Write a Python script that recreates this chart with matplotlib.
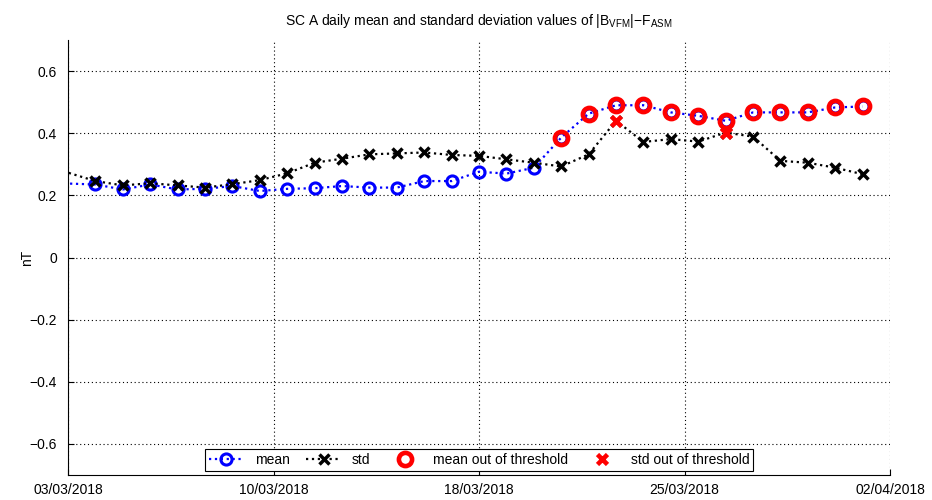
from datetime import datetime, timedelta
import matplotlib
matplotlib.use("Agg")
import matplotlib.pyplot as plt
import matplotlib.dates as mdates

plt.rcParams['font.family'] = ['Liberation Sans', 'DejaVu Sans']
plt.rcParams['mathtext.default'] = 'regular'

# daily dates (the 02/03 value sits just left of the visible range)
dates = [datetime(2018, 3, 2)] + [datetime(2018, 3, 4) + timedelta(days=i) for i in range(29)]

mean_vals = [0.241, 0.235, 0.219, 0.235, 0.219, 0.221, 0.230, 0.214, 0.221, 0.223, 0.230,
             0.225, 0.225, 0.246, 0.246, 0.276, 0.270, 0.289, 0.386, 0.463, 0.490,
             0.490, 0.467, 0.456, 0.440, 0.467, 0.467, 0.467, 0.483, 0.486]
std_vals = [0.300, 0.246, 0.232, 0.239, 0.232, 0.225, 0.236, 0.249, 0.271, 0.305, 0.318,
            0.332, 0.335, 0.338, 0.330, 0.327, 0.316, 0.305, 0.293, 0.332, 0.440,
            0.372, 0.381, 0.373, 0.402, 0.389, 0.311, 0.305, 0.289, 0.268]

# indices of values flagged out of threshold
mean_out_idx = [18, 19, 20, 21, 22, 23, 24, 25, 26, 27, 28, 29]
std_out_idx = [20, 24]

tick_dates = [datetime(2018, 3, 3), datetime(2018, 3, 10, 12), datetime(2018, 3, 18),
              datetime(2018, 3, 25, 12), datetime(2018, 4, 2)]

fig = plt.figure(figsize=(9.32, 5.0), dpi=100)
ax = fig.add_axes([0.073, 0.05, 0.882, 0.87])

ax.plot(dates, mean_vals, linestyle=':', color='blue', linewidth=1.6,
        marker='o', markersize=8, markerfacecolor='none', markeredgewidth=2.2,
        markeredgecolor='blue', label='mean', zorder=3)
ax.plot(dates, std_vals, linestyle=':', color='black', linewidth=1.6,
        marker='x', markersize=7, markeredgewidth=2.5, label='std', zorder=4)
ax.plot([dates[i] for i in mean_out_idx], [mean_vals[i] for i in mean_out_idx],
        linestyle='none', marker='o', markersize=9.5, markerfacecolor='none',
        markeredgecolor='red', markeredgewidth=3.3, label='mean out of threshold', zorder=5)
ax.plot([dates[i] for i in std_out_idx], [std_vals[i] for i in std_out_idx],
        linestyle='none', marker='x', markersize=7, markeredgecolor='red',
        markeredgewidth=3.3, label='std out of threshold', zorder=6)

ax.set_xlim(datetime(2018, 3, 3), datetime(2018, 4, 2))
ax.set_ylim(-0.7, 0.7)
ax.set_xticks(tick_dates)
ax.xaxis.set_major_formatter(mdates.DateFormatter('%d/%m/%Y'))
ax.set_yticks([-0.6, -0.4, -0.2, 0, 0.2, 0.4, 0.6])
ax.set_yticklabels(['\u22120.6', '\u22120.4', '\u22120.2', '0', '0.2', '0.4', '0.6'])
ax.tick_params(direction='in', labelsize=10, length=4)
ax.tick_params(axis='x', pad=6)
ax.tick_params(axis='y', pad=8)
ax.grid(True, linestyle=(0, (1, 2.5)), color='black', linewidth=0.8)
ax.spines['top'].set_visible(False)
ax.spines['right'].set_visible(False)

ax.set_ylabel('nT', fontsize=10, labelpad=4)
ax.yaxis.set_label_coords(-0.041, 0.5)
ax.set_title('SC A daily mean and standard deviation values of $|B_{VFM}|{-}F_{ASM}$',
             fontsize=10, pad=11)

leg = ax.legend(loc='lower center', ncol=4, fontsize=10, fancybox=False, framealpha=1,
                edgecolor='black', borderpad=0.3, handlelength=2.5, columnspacing=1.2,
                borderaxespad=0.3)
leg.get_frame().set_linewidth(0.8)

fig.savefig('out.png', dpi=100)
